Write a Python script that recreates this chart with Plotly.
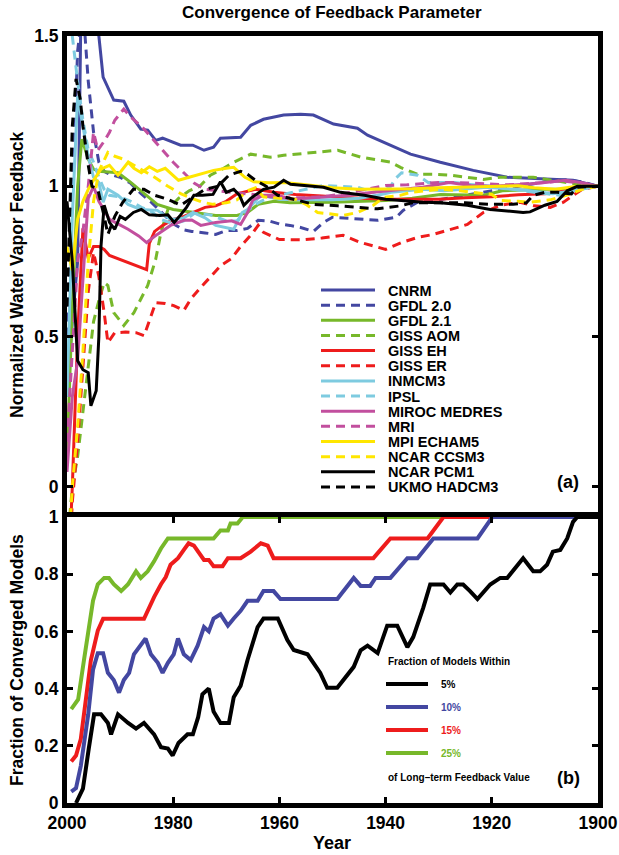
import plotly.graph_objects as go

# ---------------- data: top panel (normalized water vapor feedback) ----------------
MODEL_NAMES = ["CNRM", "GFDL 2.0", "GFDL 2.1", "GISS AOM", "GISS EH", "GISS ER", "INMCM3",
               "IPSL", "MIROC MEDRES", "MRI", "MPI ECHAM5", "NCAR CCSM3", "NCAR PCM1", "UKMO HADCM3"]
MODEL_COLORS = ["#4347a1", "#4347a1", "#77b82a", "#77b82a", "#ee1c1c", "#ee1c1c", "#7ecbe0",
                "#7ecbe0", "#c24f9e", "#c24f9e", "#ffe600", "#ffe600", "#000000", "#000000"]
MODEL_DASHED = [False, True, False, True, False, True, False, True, False, True, False, True, False, True]

cnrm_years = [2000, 1999, 1998, 1997.4, 1996, 1995, 1994, 1993.2, 1991.2, 1989.3, 1988, 1986.1, 1984.8,
              1983.3, 1982, 1978.6, 1976.3, 1974.2, 1972.4, 1971.1, 1967.3, 1965.4, 1963, 1959.2, 1956,
              1953.6, 1949.8, 1945.3, 1943.4, 1939.1, 1935.3, 1929.7, 1923.5, 1917.1, 1912.2, 1907.7,
              1904.7, 1900]
cnrm_vals = [0.3, 0.55, 0.75, 1.55, 1.8, 1.7, 1.5, 1.363, 1.287, 1.283, 1.237, 1.19, 1.187, 1.153, 1.16,
             1.137, 1.137, 1.12, 1.13, 1.16, 1.163, 1.203, 1.223, 1.237, 1.24, 1.237, 1.207, 1.193, 1.17,
             1.137, 1.107, 1.08, 1.053, 1.03, 1.027, 1.023, 1.02, 1.0]

gfdl20_years = [2000, 1999, 1998, 1997, 1996, 1995, 1994, 1993, 1992, 1990, 1988, 1986, 1984, 1982, 1980,
                1978, 1976.5, 1974, 1972, 1970, 1968, 1966, 1964, 1962, 1960, 1958, 1956, 1953.6, 1951.7,
                1950, 1946, 1941.5, 1938, 1936.7, 1934, 1930, 1925, 1920, 1915, 1910, 1906, 1903, 1900]
gfdl20_vals = [0.5, 1.0, 1.45, 1.6, 1.35, 1.18, 1.08, 1.05, 1.04, 1.03, 1.01, 0.975, 0.945, 0.91, 0.875,
               0.855, 0.85, 0.845, 0.84, 0.853, 0.853, 0.86, 0.887, 0.885, 0.875, 0.87, 0.863, 0.85, 0.88,
               0.897, 0.893, 0.887, 0.897, 0.92, 0.947, 0.955, 0.97, 0.985, 1.0, 1.015, 1.022, 1.015, 1.0]

gfdl21_years = [2000, 1999, 1998, 1997.2, 1996, 1995, 1994, 1992, 1990.4, 1988, 1985, 1983, 1980, 1976,
                1972, 1968, 1966, 1964, 1961, 1958, 1950, 1940, 1935, 1929.7, 1921.6, 1918, 1910, 1905, 1900]
gfdl21_vals = [0.1, 0.6, 1.0, 1.157, 1.09, 1.057, 1.05, 1.047, 1.045, 1.013, 0.97, 0.94, 0.923, 0.913,
               0.903, 0.903, 0.913, 0.94, 0.95, 0.945, 0.947, 0.953, 0.96, 0.973, 0.97, 0.985, 0.99, 0.99, 1.0]

gissaom_years = [2000, 1999, 1998, 1997, 1996, 1995, 1994, 1993, 1992.3, 1991.2, 1989.3, 1987.4, 1984.8,
                 1983.3, 1982.3, 1981, 1979, 1977, 1975, 1973, 1970.5, 1968.6, 1965.4, 1961.7, 1959.2,
                 1955, 1951, 1949, 1944.7, 1939, 1937.2, 1934, 1931, 1927.8, 1921.6, 1918.4, 1912.2,
                 1905.8, 1903, 1900]
gissaom_vals = [-0.2, 0.0, 0.1, 0.25, 0.4, 0.55, 0.62, 0.68, 0.67, 0.58, 0.537, 0.58, 0.67, 0.757, 0.847,
                0.923, 0.96, 0.985, 1.0, 1.037, 1.06, 1.08, 1.107, 1.097, 1.103, 1.11, 1.115, 1.12, 1.097,
                1.08, 1.063, 1.04, 1.04, 1.037, 1.023, 1.03, 1.03, 1.013, 1.005, 1.0]

gisseh_years = [2000, 1999, 1998, 1997, 1996, 1995, 1994, 1993, 1992, 1990, 1988, 1986, 1985, 1984.5,
                1983.5, 1982, 1980, 1978, 1976, 1974, 1972, 1970, 1968, 1966, 1964.5, 1961, 1957, 1952,
                1948, 1940, 1930, 1925, 1920, 1915, 1910, 1905, 1900]
gisseh_vals = [-0.4, 0.0, 0.5, 0.86, 0.76, 0.8, 0.8, 0.79, 0.77, 0.757, 0.745, 0.73, 0.723, 0.81, 0.85,
               0.87, 0.89, 0.9, 0.915, 0.93, 0.935, 0.95, 0.975, 0.985, 0.99, 0.98, 0.973, 0.968, 0.963,
               0.957, 0.957, 0.962, 0.965, 0.972, 0.975, 0.987, 1.0]

gisser_years = [2000, 1999, 1998, 1997, 1996, 1995, 1994, 1993, 1992.3, 1991, 1989, 1987, 1985.5, 1984.8,
                1983.3, 1981.5, 1979.9, 1978, 1976.7, 1975, 1973, 1971, 1969, 1967.3, 1965, 1964, 1963,
                1960, 1956, 1952, 1948, 1945, 1942, 1940, 1937, 1934, 1931, 1927.8, 1924.6, 1921.6,
                1918.4, 1914.7, 1912, 1909, 1906.5, 1904.7, 1903, 1900]
gisser_vals = [-0.4, -0.05, 0.15, 0.4, 0.65, 0.78, 0.7, 0.58, 0.48, 0.513, 0.515, 0.513, 0.503, 0.537,
               0.613, 0.61, 0.603, 0.587, 0.625, 0.66, 0.7, 0.737, 0.76, 0.8, 0.845, 0.87, 0.847, 0.823,
               0.822, 0.828, 0.837, 0.815, 0.8, 0.79, 0.813, 0.83, 0.84, 0.857, 0.873, 0.913, 0.937,
               0.947, 0.935, 0.93, 0.947, 0.97, 0.99, 1.0]

inmcm3_years = [2000, 1999, 1998, 1997, 1996, 1995, 1994, 1993.2, 1992.3, 1990.4, 1988.5, 1986.1, 1983,
                1980.5, 1978, 1976.3, 1974, 1972, 1970, 1968.6, 1967, 1966, 1963.5, 1960, 1956, 1950,
                1945, 1941.5, 1939, 1933, 1929, 1921, 1916, 1912.8, 1908.5, 1904.7, 1900]
inmcm3_vals = [0.3, 0.9, 1.3, 1.2, 1.1, 1.03, 1.013, 0.947, 0.99, 0.97, 0.94, 0.923, 0.92, 0.89, 0.895,
               0.913, 0.895, 0.87, 0.863, 0.857, 0.913, 0.923, 0.97, 0.957, 0.955, 0.955, 0.96, 0.97,
               0.98, 0.99, 0.985, 0.997, 0.99, 0.985, 0.975, 0.985, 1.0]

ipsl_years = [2000, 1999, 1998, 1997, 1996, 1995, 1994, 1993, 1992, 1990, 1988, 1986, 1984, 1982.3, 1980,
              1978, 1976, 1973, 1970, 1968, 1966, 1964, 1962, 1960, 1955, 1951.7, 1945.3, 1942.3, 1939,
              1938.3, 1937, 1934, 1932, 1927, 1924.6, 1918.4, 1912, 1907, 1905, 1903, 1900]
ipsl_vals = [1.7, 1.5, 1.35, 1.22, 1.12, 1.08, 1.03, 0.99, 0.97, 0.965, 0.95, 0.93, 0.915, 0.89, 0.875,
             0.885, 0.91, 0.905, 0.885, 0.885, 0.92, 0.945, 0.963, 0.97, 0.99, 1.003, 0.997, 0.98, 1.0,
             1.023, 1.045, 1.037, 1.013, 1.013, 1.007, 0.997, 0.98, 0.97, 0.99, 0.997, 1.0]

miroc_years = [2000, 1999, 1998, 1997, 1996, 1995, 1994, 1993, 1992, 1990.4, 1988.5, 1986.5, 1985, 1983,
               1980.5, 1978, 1976.5, 1974.8, 1972, 1969, 1967.3, 1966, 1965, 1963, 1960.3, 1957.9,
               1951.7, 1947, 1942.3, 1937.2, 1933, 1928, 1924, 1920, 1916, 1913.5, 1910, 1906, 1903, 1900]
miroc_vals = [0.05, 0.3, 0.42, 0.7, 0.96, 1.0, 0.95, 0.92, 0.89, 0.875, 0.857, 0.835, 0.813, 0.84, 0.87,
              0.887, 0.888, 0.87, 0.88, 0.885, 0.873, 0.913, 0.955, 0.97, 0.97, 0.957, 0.963, 0.97, 0.98,
              0.99, 0.997, 1.013, 1.003, 1.0, 1.003, 1.007, 1.013, 1.02, 1.012, 1.0]

mri_years = [2000, 1999, 1998, 1997, 1996, 1995, 1994.2, 1993, 1992, 1991, 1989.3, 1988, 1986, 1984, 1982,
             1980, 1978, 1976, 1974, 1972, 1969, 1966, 1963, 1960, 1956, 1952, 1948, 1944, 1940, 1936,
             1933, 1930, 1927, 1922, 1917, 1912, 1907, 1903, 1900]
mri_vals = [0.15, 0.45, 0.75, 0.85, 1.0, 1.18, 1.12, 1.15, 1.18, 1.22, 1.257, 1.23, 1.2, 1.16, 1.12, 1.08,
            1.045, 1.01, 0.99, 0.985, 0.98, 0.975, 0.968, 0.962, 0.962, 0.965, 0.975, 0.99, 1.003, 1.005,
            1.01, 1.013, 1.013, 1.01, 1.005, 1.01, 1.018, 1.01, 1.0]

mpi_years = [2000, 1999, 1998, 1997, 1996, 1995, 1993.6, 1992, 1990.4, 1988.5, 1987.4, 1986, 1984.5, 1983,
             1981.5, 1979, 1977, 1974.8, 1972.4, 1970, 1968.6, 1966.5, 1964.8, 1962, 1959, 1955, 1950,
             1945, 1940, 1935, 1930, 1925, 1920, 1915, 1912, 1908, 1904, 1900]
mpi_vals = [0.8, 0.72, 0.89, 0.95, 0.99, 1.02, 1.057, 1.07, 1.037, 1.08, 1.06, 1.045, 1.065, 1.05, 1.06,
            1.02, 1.03, 1.04, 1.053, 1.06, 1.063, 1.03, 1.015, 1.012, 1.013, 1.005, 0.995, 0.99, 0.99,
            0.992, 0.995, 0.997, 1.0, 1.002, 0.995, 0.99, 1.0, 1.0]

ccsm3_years = [2000, 1999, 1998, 1997, 1996, 1995, 1994, 1993, 1992.3, 1991, 1989.3, 1987.4, 1985.5,
               1983.5, 1981, 1978.5, 1976.5, 1974.5, 1972.5, 1970, 1968, 1966, 1964.5, 1963, 1960, 1957,
               1955, 1952.8, 1948, 1945.3, 1942.3, 1940.4, 1937.2, 1935.3, 1929.7, 1926, 1920, 1918.4,
               1915, 1912.8, 1909, 1906, 1903, 1900]
ccsm3_vals = [-0.3, 0.0, 0.2, 0.45, 0.75, 0.95, 1.05, 1.09, 1.113, 1.1, 1.09, 1.07, 1.05, 1.03, 1.0, 0.975,
              0.96, 0.947, 0.94, 0.945, 0.955, 0.985, 0.995, 0.965, 0.96, 0.957, 0.94, 0.913, 0.903, 0.913,
              0.937, 0.963, 0.97, 0.98, 0.99, 0.985, 0.973, 0.953, 0.95, 0.947, 0.955, 0.97, 0.99, 1.0]

pcm1_years = [2000, 1999, 1998, 1997, 1996, 1995.5, 1994.5, 1994, 1993.6, 1993, 1992, 1991, 1990, 1989,
              1987.5, 1986, 1984.5, 1982.5, 1981, 1979.8, 1978.6, 1977.5, 1976.1, 1974.5, 1972.5, 1971.1,
              1970, 1968.6, 1967.5, 1966.7, 1965.4, 1963, 1961, 1959.2, 1957.9, 1954, 1951.7, 1948.5,
              1944, 1940, 1937.2, 1932.9, 1929.7, 1924.6, 1920.3, 1918.4, 1914.1, 1912.8, 1910, 1907.7,
              1905.8, 1903.9, 1900]
pcm1_vals = [0.95, 0.75, 0.42, 0.39, 0.38, 0.27, 0.32, 0.5, 0.8, 0.937, 0.88, 0.857, 0.9, 0.89, 0.913,
             0.923, 0.905, 0.903, 0.905, 0.88, 0.905, 0.93, 0.97, 0.97, 0.973, 1.015, 0.98, 0.99, 0.97,
             0.937, 0.96, 0.99, 0.997, 1.02, 1.007, 1.0, 0.997, 0.98, 0.97, 0.957, 0.953, 0.947, 0.945,
             0.937, 0.923, 0.92, 0.913, 0.915, 0.937, 0.95, 0.985, 1.0, 1.0]

ukmo_years = [2000, 1999, 1998.3, 1997.5, 1997, 1996, 1995.3, 1994.2, 1993, 1992.3, 1991, 1989.5, 1987.5,
              1985.5, 1983.5, 1981, 1978.6, 1976.5, 1974, 1971.6, 1969.5, 1967.3, 1966, 1964.5, 1962.5,
              1960.3, 1955.5, 1953.5, 1949, 1944, 1941.5, 1937.2, 1935, 1930, 1925, 1920.3, 1916, 1913.5,
              1912.2, 1910, 1907.7, 1905, 1903.9, 1900]
ukmo_vals = [0.6, 1.2, 1.357, 1.29, 1.2, 1.07, 1.0, 0.99, 0.9, 0.84, 0.9, 0.947, 0.99, 0.99, 0.97, 0.957,
             0.937, 0.96, 0.99, 1.0, 1.037, 1.05, 1.04, 1.02, 1.0, 0.97, 0.95, 0.94, 0.935, 0.928, 0.925,
             0.935, 0.945, 0.945, 0.945, 0.94, 0.94, 0.945, 0.97, 0.98, 0.98, 0.975, 0.997, 1.0]

MODEL_YEARS = [cnrm_years, gfdl20_years, gfdl21_years, gissaom_years, gisseh_years, gisser_years,
               inmcm3_years, ipsl_years, miroc_years, mri_years, mpi_years, ccsm3_years, pcm1_years,
               ukmo_years]
MODEL_VALUES = [cnrm_vals, gfdl20_vals, gfdl21_vals, gissaom_vals, gisseh_vals, gisser_vals, inmcm3_vals,
                ipsl_vals, miroc_vals, mri_vals, mpi_vals, ccsm3_vals, pcm1_vals, ukmo_vals]

# ---------------- data: bottom panel (fraction of converged models) ----------------
THRESH_NAMES = ["5%", "10%", "15%", "25%"]
THRESH_COLORS = ["#000000", "#4347a1", "#ee1c1c", "#77b82a"]

within5_years = [1998.3, 1997, 1995.9, 1994.9, 1993.6, 1992.3, 1991.7, 1990.4, 1988.5, 1987, 1985.5,
                 1983.6, 1982.3, 1981, 1980.1, 1979, 1977.3, 1976.3, 1975.3, 1974.5, 1973.3, 1972.4,
                 1971.1, 1969.5, 1968.6, 1967.3, 1966, 1964.1, 1963, 1960.3, 1958.5, 1957.3, 1954.7,
                 1952.3, 1951, 1949.1, 1946, 1944.7, 1943.4, 1941.5, 1939.7, 1937.8, 1935.9, 1934.8,
                 1932.9, 1931.6, 1929.1, 1927.8, 1926.5, 1925.4, 1924.1, 1922.7, 1920.3, 1918.4, 1917.1,
                 1915.2, 1914.1, 1912.2, 1910.9, 1909.6, 1908.5, 1907.1, 1905.8, 1904.7, 1903.9, 1900]
within5_vals = [0.0, 0.05, 0.19, 0.31, 0.31, 0.28, 0.24, 0.31, 0.28, 0.26, 0.28, 0.24, 0.195, 0.19,
                0.166, 0.21, 0.24, 0.24, 0.3, 0.38, 0.4, 0.32, 0.28, 0.28, 0.37, 0.41, 0.5, 0.615, 0.645,
                0.645, 0.57, 0.535, 0.52, 0.455, 0.403, 0.403, 0.476, 0.534, 0.55, 0.524, 0.62, 0.62,
                0.545, 0.58, 0.683, 0.764, 0.764, 0.736, 0.764, 0.764, 0.741, 0.713, 0.764, 0.787, 0.787,
                0.828, 0.856, 0.81, 0.81, 0.833, 0.879, 0.885, 0.925, 0.983, 1.0, 1.0]

within10_years = [1999.2, 1998.3, 1997.4, 1996, 1995.1, 1994.2, 1993.2, 1992.3, 1991.2, 1990.2, 1989.3,
                  1988.3, 1987.4, 1986.1, 1985.2, 1984.2, 1982.9, 1982, 1981, 1979.9, 1979.1, 1978,
                  1976.7, 1975.4, 1974.2, 1973.3, 1972.4, 1971.1, 1969.7, 1968.6, 1967.3, 1966, 1964.1,
                  1963, 1961.1, 1959.8, 1949.1, 1946, 1944.7, 1942.9, 1941.9, 1939.1, 1935.9, 1934, 1931,
                  1922.7, 1919.9, 1900]
within10_vals = [0.04, 0.052, 0.13, 0.31, 0.466, 0.524, 0.524, 0.455, 0.43, 0.386, 0.43, 0.455, 0.52,
                 0.55, 0.575, 0.52, 0.49, 0.455, 0.49, 0.52, 0.575, 0.52, 0.5, 0.55, 0.615, 0.6, 0.645,
                 0.66, 0.62, 0.645, 0.672, 0.707, 0.707, 0.741, 0.741, 0.713, 0.713, 0.787, 0.759, 0.759,
                 0.787, 0.787, 0.856, 0.856, 0.925, 0.925, 1.0, 1.0]

within15_years = [1999.2, 1998.3, 1997.4, 1996.4, 1995.5, 1994.2, 1993.2, 1985.5, 1984.6, 1983.6, 1982.3,
                  1981.4, 1980.5, 1979.1, 1978, 1977.1, 1976.1, 1974.8, 1974.2, 1973.3, 1972.4, 1970.7,
                  1969.7, 1967.3, 1965.4, 1963.5, 1962.2, 1961.1, 1942.3, 1939.1, 1932.1, 1929.1, 1900]
within15_vals = [0.145, 0.166, 0.224, 0.362, 0.5, 0.603, 0.644, 0.644, 0.683, 0.72, 0.765, 0.79, 0.833,
                 0.856, 0.885, 0.908, 0.9, 0.868, 0.85, 0.85, 0.828, 0.828, 0.856, 0.856, 0.879, 0.908,
                 0.9, 0.856, 0.856, 0.925, 0.925, 1.0, 1.0]

within25_years = [1999.2, 1997.9, 1996.8, 1995.9, 1995.1, 1994.2, 1993, 1992.1, 1991.2, 1989.8, 1988.5,
                  1987, 1986.1, 1984.8, 1983.6, 1982.3, 1981, 1972.4, 1971.1, 1969.7, 1969.2, 1967.9,
                  1966.9, 1900]
within25_vals = [0.328, 0.362, 0.5, 0.6, 0.707, 0.765, 0.787, 0.787, 0.765, 0.741, 0.765, 0.81, 0.787,
                 0.81, 0.845, 0.89, 0.925, 0.925, 0.953, 0.953, 0.977, 0.977, 1.0, 1.0]

THRESH_YEARS = [within5_years, within10_years, within15_years, within25_years]
THRESH_VALUES = [within5_vals, within10_vals, within15_vals, within25_vals]

X_TICKS = [2000, 1980, 1960, 1940, 1920, 1900]
Y1_TICKS = [0, 0.5, 1, 1.5]
Y1_LABELS = ["0", "0.5", "1", "1.5"]
Y2_TICKS = [0, 0.2, 0.4, 0.6, 0.8, 1]
Y2_LABELS = ["0", "0.2", "0.4", "0.6", "0.8", "1"]

# ---------------- layout geometry ----------------
FIG_W, FIG_H = 619, 855
ML, MR, MT, MB = 67, 21, 36, 52
PW = FIG_W - ML - MR
PH = FIG_H - MT - MB
SPLIT_PX = 517  # pixel row of the panel boundary


def xp(px):
    return (px - ML) / PW


def yp(py):
    return (FIG_H - MB - py) / PH


FONT = "Liberation Sans, Arial, Helvetica, sans-serif"
DASH = "9px,6px"

fig = go.Figure()

# bottom panel traces (green first, black last so black sits on top)
for i in [3, 2, 1, 0]:
    fig.add_trace(go.Scatter(
        x=THRESH_YEARS[i], y=THRESH_VALUES[i], mode="lines",
        line=dict(color=THRESH_COLORS[i], width=4),
        xaxis="x2", yaxis="y2", showlegend=False, hoverinfo="skip"))

# top panel traces
for name, col, dashed, yrs, vals in zip(MODEL_NAMES, MODEL_COLORS, MODEL_DASHED, MODEL_YEARS, MODEL_VALUES):
    fig.add_trace(go.Scatter(
        x=yrs, y=vals, mode="lines", name=name,
        line=dict(color=col, width=3, dash=DASH if dashed else "solid"),
        xaxis="x", yaxis="y", showlegend=False))

shapes = []
annotations = []

# manual legend, top panel
leg_x0, leg_x1, leg_tx = 321, 375, 386
for i, (name, col, dashed) in enumerate(zip(MODEL_NAMES, MODEL_COLORS, MODEL_DASHED)):
    y = 290 + i * 15.15
    shapes.append(dict(type="line", xref="paper", yref="paper", x0=xp(leg_x0), x1=xp(leg_x1),
                       y0=yp(y), y1=yp(y),
                       line=dict(color=col, width=3, dash=DASH if dashed else "solid")))
    annotations.append(dict(text=name, xref="paper", yref="paper", x=xp(leg_tx), y=yp(y + 0.5),
                            xanchor="left", yanchor="middle", showarrow=False,
                            font=dict(family=FONT, size=14.5, color="black", weight="bold")))

# manual legend, bottom panel
annotations.append(dict(text="Fraction of Models Within", xref="paper", yref="paper", x=xp(386),
                        y=yp(661), xanchor="left", yanchor="middle", showarrow=False,
                        font=dict(family=FONT, size=10, color="black", weight="bold")))
for i, (name, col) in enumerate(zip(THRESH_NAMES, THRESH_COLORS)):
    y = 684 + i * 23
    shapes.append(dict(type="line", xref="paper", yref="paper", x0=xp(386), x1=xp(428),
                       y0=yp(y), y1=yp(y), line=dict(color=col, width=4)))
    annotations.append(dict(text=name, xref="paper", yref="paper", x=xp(439), y=yp(y),
                            xanchor="left", yanchor="middle", showarrow=False,
                            font=dict(family=FONT, size=10, color=col, weight="bold")))
annotations.append(dict(text="of Long–term Feedback Value", xref="paper", yref="paper", x=xp(386),
                        y=yp(777), xanchor="left", yanchor="middle", showarrow=False,
                        font=dict(family=FONT, size=10, color="black", weight="bold")))

# panel labels
for lab, py in [("(a)", 482), ("(b)", 778)]:
    annotations.append(dict(text=lab, xref="paper", yref="paper", x=xp(568), y=yp(py),
                            xanchor="center", yanchor="middle", showarrow=False,
                            font=dict(family=FONT, size=18, color="black", weight="bold")))

# title and axis titles
annotations.append(dict(text="Convergence of Feedback Parameter", xref="paper", yref="paper",
                        x=xp(332), y=yp(13), xanchor="center", yanchor="middle", showarrow=False,
                        font=dict(family=FONT, size=17, color="black", weight="bold")))
annotations.append(dict(text="Normalized Water Vapor Feedback", xref="paper", yref="paper",
                        x=xp(17), y=yp(275), textangle=-90, xanchor="center", yanchor="middle",
                        showarrow=False, font=dict(family=FONT, size=17.5, color="black", weight="bold")))
annotations.append(dict(text="Fraction of Converged Models", xref="paper", yref="paper",
                        x=xp(17), y=yp(660), textangle=-90, xanchor="center", yanchor="middle",
                        showarrow=False, font=dict(family=FONT, size=17.5, color="black", weight="bold")))
annotations.append(dict(text="Year", xref="paper", yref="paper", x=xp(332), y=yp(843),
                        xanchor="center", yanchor="middle", showarrow=False,
                        font=dict(family=FONT, size=18, color="black", weight="bold")))

split = yp(SPLIT_PX)
tickfont = dict(family=FONT, size=17.5, color="black", weight="bold")
common_axis = dict(showline=True, linewidth=5, linecolor="black", showgrid=False, zeroline=False,
                   automargin=False)

fig.update_layout(
    width=FIG_W, height=FIG_H,
    margin=dict(l=ML, r=MR, t=MT, b=MB, autoexpand=False),
    paper_bgcolor="white", plot_bgcolor="white",
    showlegend=False,
    xaxis=dict(domain=[0, 1], anchor="y", range=[2000, 1900], side="top", matches="x2",
               ticks="", showticklabels=False, mirror=False, **common_axis),
    yaxis=dict(domain=[split, 1], anchor="x", range=[-0.1, 1.5], tickvals=Y1_TICKS, ticktext=Y1_LABELS,
               ticks="inside", ticklen=6, tickwidth=3, tickcolor="black", mirror="ticks",
               tickfont=tickfont, **common_axis),
    xaxis2=dict(domain=[0, 1], anchor="y2", range=[2000, 1900], tickvals=X_TICKS,
                ticktext=[str(v) for v in X_TICKS], ticks="inside", ticklen=6, tickwidth=3,
                tickcolor="black", mirror="ticks", tickfont=tickfont, **common_axis),
    yaxis2=dict(domain=[0, split], anchor="x2", range=[0, 1], tickvals=Y2_TICKS, ticktext=Y2_LABELS,
                ticks="inside", ticklen=6, tickwidth=3, tickcolor="black", mirror="ticks",
                tickfont=tickfont, **common_axis),
    shapes=shapes,
    annotations=annotations,
)

fig.write_html("out.html", config={"displayModeBar": False},
               post_script="document.body.style.margin='0';document.body.style.overflow='hidden';")
